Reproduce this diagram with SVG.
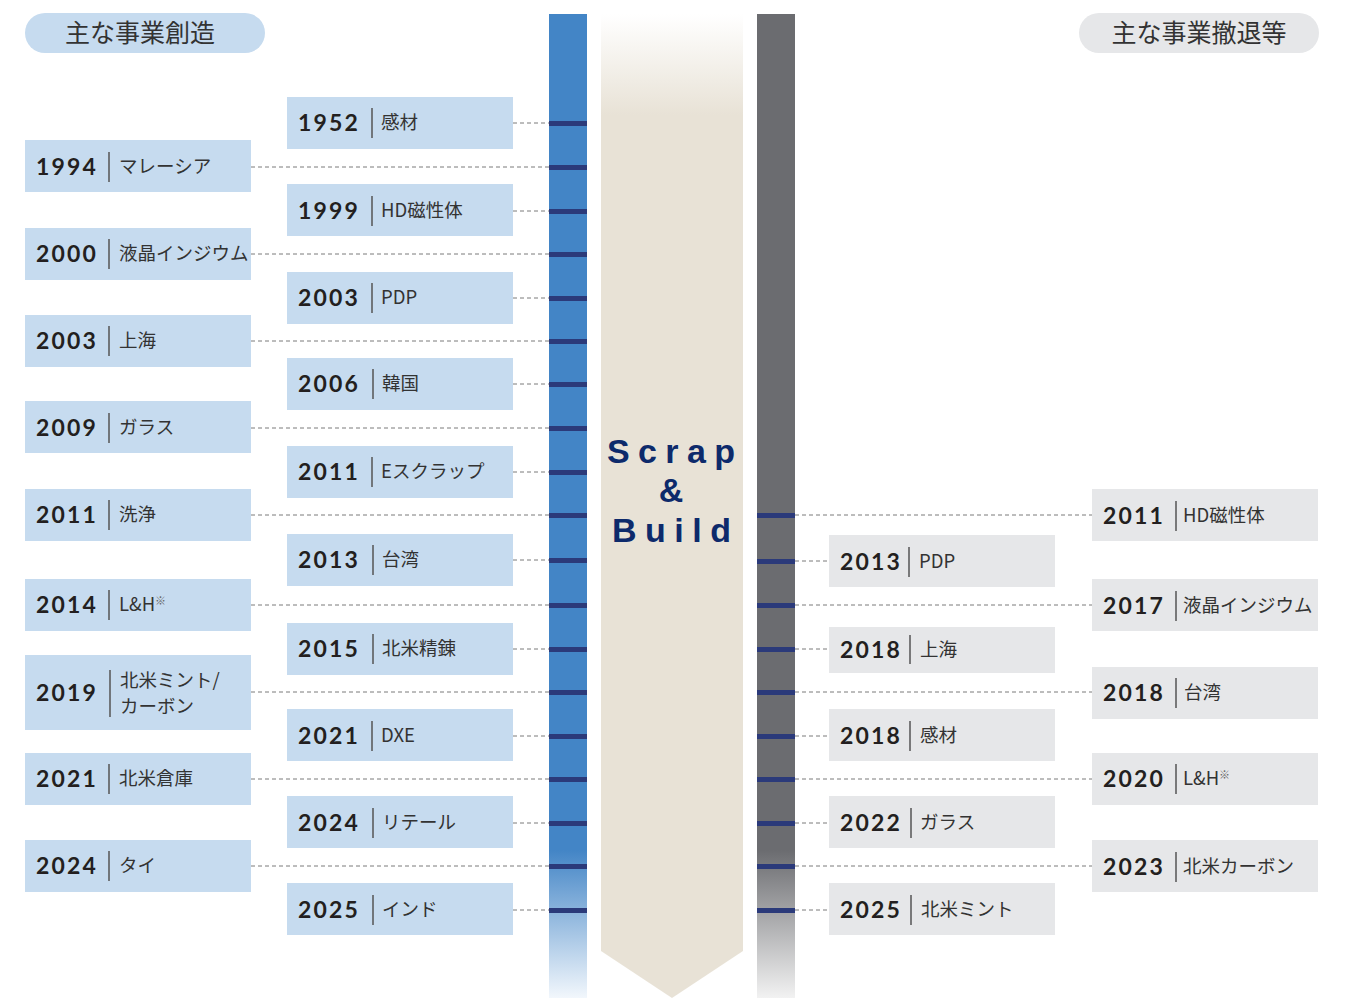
<svg xmlns="http://www.w3.org/2000/svg" width="1358" height="998" viewBox="0 0 1358 998">
<style>
.bl{fill:#c6dbef}
.gr{fill:#e6e7e9}
.yr{font-family:Lato,"Liberation Sans",sans-serif;font-weight:700;font-size:23px;letter-spacing:2.2px;fill:#231f20}
.lb{font-family:"Noto Sans CJK JP","Noto Sans",sans-serif;font-size:18.5px;fill:#333}
.sep{stroke:#555;stroke-width:1.5}
.hd{font-family:"Noto Sans CJK JP",sans-serif;font-size:25px;fill:#333;text-anchor:middle}
.dash{stroke:#7a7a7a;stroke-width:1;stroke-dasharray:4 3;fill:none}
.tick{fill:#2b3a7a}
.sb{font-family:"Liberation Sans",Arial,sans-serif;font-weight:700;font-size:34px;fill:#0d2a6b}
</style>
<defs>
<linearGradient id="gBlue" gradientUnits="userSpaceOnUse" x1="0" y1="14" x2="0" y2="998">
<stop offset="0.85" stop-color="#4385c6"/>
<stop offset="1" stop-color="#f2f7fc"/>
</linearGradient>
<linearGradient id="gGray" gradientUnits="userSpaceOnUse" x1="0" y1="14" x2="0" y2="998">
<stop offset="0.85" stop-color="#6b6c70"/>
<stop offset="1" stop-color="#f2f2f2"/>
</linearGradient>
<linearGradient id="gArrow" gradientUnits="userSpaceOnUse" x1="0" y1="14" x2="0" y2="115">
<stop offset="0" stop-color="#ffffff"/>
<stop offset="1" stop-color="#e8e2d6"/>
</linearGradient>
</defs>

<g id="header-left">
<rect x="25" y="13" width="240" height="40" rx="20" class="bl"/>
<text x="140" y="42" class="hd">主な事業創造</text>
</g>
<g id="header-right">
<rect x="1079" y="13" width="240" height="40" rx="20" class="gr"/>
<text x="1199" y="42" class="hd">主な事業撤退等</text>
</g>

<g id="timeline-bars">
<rect x="549" y="14" width="38" height="984" fill="url(#gBlue)"/>
<rect x="757" y="14" width="38" height="984" fill="url(#gGray)"/>
<polygon points="601,14 743,14 743,951 672,998 601,951" fill="url(#gArrow)"/>
</g>

<g id="scrap-build">
<text class="sb"><tspan x="607" y="463" textLength="128" lengthAdjust="spacing">Scrap</tspan><tspan x="671" y="502" text-anchor="middle">&amp;</tspan><tspan x="612" y="542" textLength="119" lengthAdjust="spacing">Build</tspan></text>
</g>

<g id="connectors">
<line class="dash" x1="513" y1="123" x2="549" y2="123"/>
<line class="dash" x1="251" y1="167" x2="549" y2="167"/>
<line class="dash" x1="513" y1="211" x2="549" y2="211"/>
<line class="dash" x1="251" y1="254" x2="549" y2="254"/>
<line class="dash" x1="513" y1="298" x2="549" y2="298"/>
<line class="dash" x1="251" y1="341" x2="549" y2="341"/>
<line class="dash" x1="513" y1="384" x2="549" y2="384"/>
<line class="dash" x1="251" y1="428" x2="549" y2="428"/>
<line class="dash" x1="513" y1="472" x2="549" y2="472"/>
<line class="dash" x1="251" y1="515" x2="549" y2="515"/>
<line class="dash" x1="513" y1="560" x2="549" y2="560"/>
<line class="dash" x1="251" y1="605" x2="549" y2="605"/>
<line class="dash" x1="513" y1="649" x2="549" y2="649"/>
<line class="dash" x1="251" y1="692" x2="549" y2="692"/>
<line class="dash" x1="513" y1="736" x2="549" y2="736"/>
<line class="dash" x1="251" y1="779" x2="549" y2="779"/>
<line class="dash" x1="513" y1="823" x2="549" y2="823"/>
<line class="dash" x1="251" y1="866" x2="549" y2="866"/>
<line class="dash" x1="513" y1="910" x2="549" y2="910"/>

<line class="dash" x1="795" y1="515" x2="1092" y2="515"/>
<line class="dash" x1="795" y1="561" x2="829" y2="561"/>
<line class="dash" x1="795" y1="605" x2="1092" y2="605"/>
<line class="dash" x1="795" y1="649" x2="829" y2="649"/>
<line class="dash" x1="795" y1="692" x2="1092" y2="692"/>
<line class="dash" x1="795" y1="736" x2="829" y2="736"/>
<line class="dash" x1="795" y1="779" x2="1092" y2="779"/>
<line class="dash" x1="795" y1="823" x2="829" y2="823"/>
<line class="dash" x1="795" y1="866" x2="1092" y2="866"/>
<line class="dash" x1="795" y1="910" x2="829" y2="910"/>

<g id="ticks-left">
<rect class="tick" x="549" y="121" width="38" height="5"/>
<rect class="tick" x="549" y="165" width="38" height="5"/>
<rect class="tick" x="549" y="209" width="38" height="5"/>
<rect class="tick" x="549" y="252" width="38" height="5"/>
<rect class="tick" x="549" y="296" width="38" height="5"/>
<rect class="tick" x="549" y="339" width="38" height="5"/>
<rect class="tick" x="549" y="382" width="38" height="5"/>
<rect class="tick" x="549" y="426" width="38" height="5"/>
<rect class="tick" x="549" y="470" width="38" height="5"/>
<rect class="tick" x="549" y="513" width="38" height="5"/>
<rect class="tick" x="549" y="558" width="38" height="5"/>
<rect class="tick" x="549" y="603" width="38" height="5"/>
<rect class="tick" x="549" y="647" width="38" height="5"/>
<rect class="tick" x="549" y="690" width="38" height="5"/>
<rect class="tick" x="549" y="734" width="38" height="5"/>
<rect class="tick" x="549" y="777" width="38" height="5"/>
<rect class="tick" x="549" y="821" width="38" height="5"/>
<rect class="tick" x="549" y="864" width="38" height="5"/>
<rect class="tick" x="549" y="908" width="38" height="5"/>
</g>
<g id="ticks-right">
<rect class="tick" x="757" y="513" width="38" height="5"/>
<rect class="tick" x="757" y="559" width="38" height="5"/>
<rect class="tick" x="757" y="603" width="38" height="5"/>
<rect class="tick" x="757" y="647" width="38" height="5"/>
<rect class="tick" x="757" y="690" width="38" height="5"/>
<rect class="tick" x="757" y="734" width="38" height="5"/>
<rect class="tick" x="757" y="777" width="38" height="5"/>
<rect class="tick" x="757" y="821" width="38" height="5"/>
<rect class="tick" x="757" y="864" width="38" height="5"/>
<rect class="tick" x="757" y="908" width="38" height="5"/>
</g>
</g>

<!-- inner left column -->
<g id="n1952"><rect class="bl" x="287" y="97" width="226" height="52"/><text class="yr" x="298" y="131">1952</text><line class="sep" x1="372" y1="108" x2="372" y2="138"/><text class="lb" x="381" y="129">感材</text></g>
<g id="n1999"><rect class="bl" x="287" y="184" width="226" height="52"/><text class="yr" x="298" y="219">1999</text><line class="sep" x1="372" y1="196" x2="372" y2="226"/><text class="lb" x="381" y="217">HD磁性体</text></g>
<g id="n2003a"><rect class="bl" x="287" y="272" width="226" height="52"/><text class="yr" x="298" y="306">2003</text><line class="sep" x1="372" y1="283" x2="372" y2="313"/><text class="lb" x="381" y="304">PDP</text></g>
<g id="n2006"><rect class="bl" x="287" y="358" width="226" height="52"/><text class="yr" x="298" y="392">2006</text><line class="sep" x1="373" y1="369" x2="373" y2="399"/><text class="lb" x="382" y="390">韓国</text></g>
<g id="n2011a"><rect class="bl" x="287" y="446" width="226" height="52"/><text class="yr" x="298" y="480">2011</text><line class="sep" x1="372" y1="457" x2="372" y2="487"/><text class="lb" x="381" y="478">Eスクラップ</text></g>
<g id="n2013a"><rect class="bl" x="287" y="534" width="226" height="52"/><text class="yr" x="298" y="568">2013</text><line class="sep" x1="373" y1="545" x2="373" y2="575"/><text class="lb" x="382" y="566">台湾</text></g>
<g id="n2015"><rect class="bl" x="287" y="623" width="226" height="52"/><text class="yr" x="298" y="657">2015</text><line class="sep" x1="373" y1="634" x2="373" y2="664"/><text class="lb" x="382" y="655">北米精錬</text></g>
<g id="n2021a"><rect class="bl" x="287" y="709" width="226" height="52"/><text class="yr" x="298" y="744">2021</text><line class="sep" x1="372" y1="721" x2="372" y2="751"/><text class="lb" x="381" y="742">DXE</text></g>
<g id="n2024a"><rect class="bl" x="287" y="796" width="226" height="52"/><text class="yr" x="298" y="831">2024</text><line class="sep" x1="373" y1="808" x2="373" y2="838"/><text class="lb" x="382" y="829">リテール</text></g>
<g id="n2025a"><rect class="bl" x="287" y="883" width="226" height="52"/><text class="yr" x="298" y="918">2025</text><line class="sep" x1="373" y1="895" x2="373" y2="925"/><text class="lb" x="382" y="916">インド</text></g>

<!-- outer left column -->
<g id="n1994"><rect class="bl" x="25" y="140" width="226" height="52"/><text class="yr" x="36" y="175">1994</text><line class="sep" x1="109" y1="152" x2="109" y2="182"/><text class="lb" x="119" y="173">マレーシア</text></g>
<g id="n2000"><rect class="bl" x="25" y="228" width="226" height="52"/><text class="yr" x="36" y="262">2000</text><line class="sep" x1="109" y1="239" x2="109" y2="269"/><text class="lb" x="119" y="260">液晶インジウム</text></g>
<g id="n2003b"><rect class="bl" x="25" y="315" width="226" height="52"/><text class="yr" x="36" y="349">2003</text><line class="sep" x1="109" y1="326" x2="109" y2="356"/><text class="lb" x="119" y="347">上海</text></g>
<g id="n2009"><rect class="bl" x="25" y="401" width="226" height="52"/><text class="yr" x="36" y="436">2009</text><line class="sep" x1="109" y1="413" x2="109" y2="443"/><text class="lb" x="119" y="434">ガラス</text></g>
<g id="n2011b"><rect class="bl" x="25" y="489" width="226" height="52"/><text class="yr" x="36" y="523">2011</text><line class="sep" x1="109" y1="500" x2="109" y2="530"/><text class="lb" x="119" y="521">洗浄</text></g>
<g id="n2014"><rect class="bl" x="25" y="579" width="226" height="52"/><text class="yr" x="36" y="613">2014</text><line class="sep" x1="109" y1="590" x2="109" y2="620"/><text class="lb" x="119" y="611">L&amp;H<tspan font-size="11" dy="-6" fill="#666">※</tspan></text></g>
<g id="n2019"><rect class="bl" x="25" y="655" width="226" height="75"/><text class="yr" x="36" y="701">2019</text><line class="sep" x1="110" y1="670" x2="110" y2="717"/><text class="lb" x="120" y="687">北米ミント/</text><text class="lb" x="120" y="713">カーボン</text></g>
<g id="n2021b"><rect class="bl" x="25" y="753" width="226" height="52"/><text class="yr" x="36" y="787">2021</text><line class="sep" x1="109" y1="764" x2="109" y2="794"/><text class="lb" x="119" y="785">北米倉庫</text></g>
<g id="n2024b"><rect class="bl" x="25" y="840" width="226" height="52"/><text class="yr" x="36" y="874">2024</text><line class="sep" x1="109" y1="851" x2="109" y2="881"/><text class="lb" x="119" y="872">タイ</text></g>

<!-- inner right column -->
<g id="r2013"><rect class="gr" x="829" y="535" width="226" height="52"/><text class="yr" x="840" y="570">2013</text><line class="sep" x1="909" y1="547" x2="909" y2="577"/><text class="lb" x="919" y="568">PDP</text></g>
<g id="r2018a"><rect class="gr" x="829" y="627" width="226" height="46"/><text class="yr" x="840" y="658">2018</text><line class="sep" x1="910" y1="635" x2="910" y2="664"/><text class="lb" x="920" y="656">上海</text></g>
<g id="r2018b"><rect class="gr" x="829" y="709" width="226" height="52"/><text class="yr" x="840" y="744">2018</text><line class="sep" x1="910" y1="721" x2="910" y2="751"/><text class="lb" x="920" y="742">感材</text></g>
<g id="r2022"><rect class="gr" x="829" y="796" width="226" height="52"/><text class="yr" x="840" y="831">2022</text><line class="sep" x1="911" y1="808" x2="911" y2="838"/><text class="lb" x="920" y="829">ガラス</text></g>
<g id="r2025"><rect class="gr" x="829" y="883" width="226" height="52"/><text class="yr" x="840" y="918">2025</text><line class="sep" x1="911" y1="895" x2="911" y2="925"/><text class="lb" x="921" y="916">北米ミント</text></g>

<!-- outer right column -->
<g id="r2011"><rect class="gr" x="1092" y="489" width="226" height="52"/><text class="yr" x="1103" y="524">2011</text><line class="sep" x1="1176" y1="501" x2="1176" y2="531"/><text class="lb" x="1183" y="522">HD磁性体</text></g>
<g id="r2017"><rect class="gr" x="1092" y="579" width="226" height="52"/><text class="yr" x="1103" y="614">2017</text><line class="sep" x1="1176" y1="591" x2="1176" y2="621"/><text class="lb" x="1183" y="612">液晶インジウム</text></g>
<g id="r2018c"><rect class="gr" x="1092" y="667" width="226" height="52"/><text class="yr" x="1103" y="701">2018</text><line class="sep" x1="1176" y1="678" x2="1176" y2="708"/><text class="lb" x="1184" y="699">台湾</text></g>
<g id="r2020"><rect class="gr" x="1092" y="753" width="226" height="52"/><text class="yr" x="1103" y="787">2020</text><line class="sep" x1="1176" y1="764" x2="1176" y2="794"/><text class="lb" x="1183" y="785">L&amp;H<tspan font-size="11" dy="-6" fill="#666">※</tspan></text></g>
<g id="r2023"><rect class="gr" x="1092" y="840" width="226" height="52"/><text class="yr" x="1103" y="875">2023</text><line class="sep" x1="1176" y1="852" x2="1176" y2="882"/><text class="lb" x="1183" y="873">北米カーボン</text></g>
</svg>
